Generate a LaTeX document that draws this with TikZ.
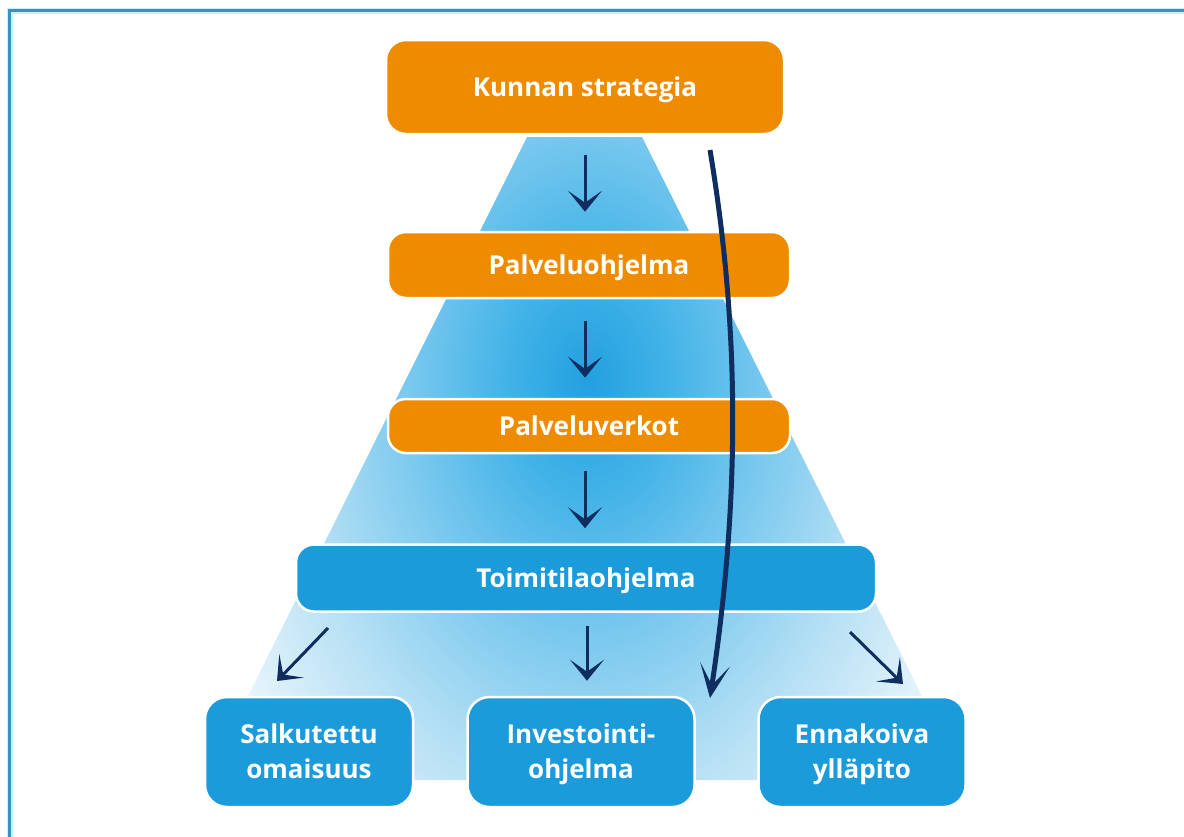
\documentclass[tikz,border=0pt]{standalone}
\usepackage{fontspec}
\setmainfont{Open Sans}
\usetikzlibrary{arrows.meta,calc}
\definecolor{orangebox}{HTML}{EE8B00}
\definecolor{bluebox}{HTML}{1B9BDA}
\definecolor{navy}{HTML}{0F2D5E}
\definecolor{frameblue}{HTML}{3A8FC5}
\definecolor{framehalo}{HTML}{C8F0FA}
\definecolor{pcA}{HTML}{22A0DF}
\definecolor{pcB}{HTML}{40B2E7}
\definecolor{pcC}{HTML}{80CBEF}
\definecolor{pcD}{HTML}{B3DFF4}
\definecolor{pcE}{HTML}{E6F4FB}
\pgfdeclareradialshading{pyrshade}{\pgfpoint{0bp}{0bp}}{color(0bp)=(pcA); color(4bp)=(pcB); color(10bp)=(pcC); color(15bp)=(pcD); color(21bp)=(pcE); color(50bp)=(pcE)}
\tikzset{
  boxbase/.style={rounded corners=18pt, draw=white, line width=2.5pt, text=white,
    font=\fontsize{26}{35}\selectfont\bfseries, align=center, inner sep=0pt,
    text height=18.5pt, text depth=0pt},
  orangenode/.style={boxbase, fill=orangebox},
  bluenode/.style={boxbase, fill=bluebox},
  twoline/.style={text height=53.5pt, minimum width=208pt, minimum height=110pt, rounded corners=22pt},
  arr/.style={draw=navy, line width=3pt, -{Stealth[length=21pt,width=34pt,inset=12pt]}},
  bigarr/.style={draw=navy, line width=5pt, -{Stealth[length=34pt,width=30pt,inset=21pt]}},
}
\begin{document}
\begin{tikzpicture}[x=1pt,y=-1pt]
\useasboundingbox (0,0) rectangle (1184,836);
% frame (only top and left visible)
\draw[framehalo, line width=6pt] (9.5,900) -- (9.5,10.5) -- (1200,10.5);
\draw[frameblue, line width=3pt] (9.5,900) -- (9.5,10.5) -- (1200,10.5);
% pyramid background
\begin{scope}
\clip (527,137) -- (642,137) -- (964,780) -- (206,780) -- cycle;
\shade[shading=pyrshade] (588,380) ellipse (480 and 680);
\end{scope}
% boxes
\node[orangenode, minimum width=398pt, minimum height=94pt, rounded corners=20pt] (k) at (585,87) {Kunnan strategia};
\node[orangenode, minimum width=402pt, minimum height=66pt] (p1) at (589,265) {Palveluohjelma};
\node[orangenode, minimum width=402pt, minimum height=54pt] (p2) at (589,426) {Palveluverkot};
\node[bluenode, minimum width=580pt, minimum height=67pt] (t) at (586,578) {Toimitilaohjelma};
\node[bluenode, twoline] (s) at (309,752) {Salkutettu\\omaisuus};
\node[bluenode, twoline, minimum width=227pt] (i) at (581,752) {Investointi-\\ohjelma};
\node[bluenode, twoline, minimum width=207pt] (e) at (862,752) {Ennakoiva\\ylläpito};
% vertical arrows
\draw[arr, shorten <=20pt, shorten >=19pt] (k.south) -- (k.south |- p1.north);
\draw[arr, shorten <=22pt, shorten >=20pt] (k.south |- p1.south) -- (k.south |- p2.north);
\draw[arr, shorten <=17pt, shorten >=15pt] (k.south |- p2.south) -- (k.south |- t.north);
\draw[arr, shorten <=13pt, shorten >=15pt] (t.south -| 587,0) -- (i.north -| 587,0);
% diagonal arrows
\coordinate (ls) at (328,628);
\coordinate (le) at (277,681);
\coordinate (rs) at (850,632);
\coordinate (re) at (903,684);
\draw[arr] (ls) -- (le);
\draw[arr] (rs) -- (re);
% long curved arrow
\coordinate (cs) at (710,150);
\coordinate (ce) at (710,698);
\draw[bigarr] (cs) .. controls (740,330) and (740,500) .. (ce);
\end{tikzpicture}
\end{document}
